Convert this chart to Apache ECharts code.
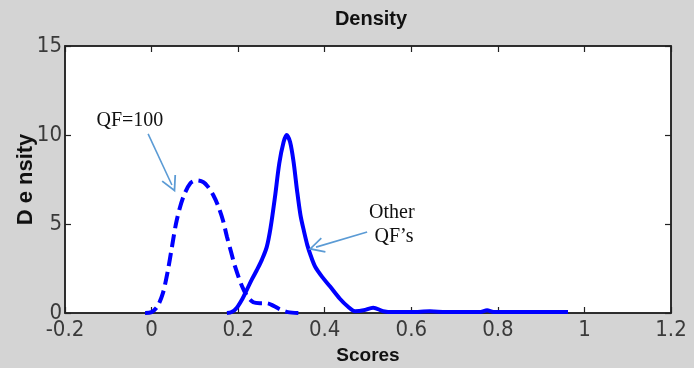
<!DOCTYPE html>
<html>
<head>
<meta charset="utf-8">
<script src="https://cdn.jsdelivr.net/npm/echarts@6/dist/echarts.min.js"></script>
<style>
html,body{margin:0;padding:0;background:#d4d4d4;}
#chart{width:694px;height:368px;}
</style>
</head>
<body>
<div id="chart"></div>
<script>
// ---- data ----
const xTicks = { min: -0.2, max: 1.2, interval: 0.2 };
const yTicks = { min: 0, max: 15, interval: 5 };

const qf100X = [-0.015, 0.0, 0.013, 0.026, 0.037, 0.047, 0.058, 0.073, 0.09, 0.105, 0.12, 0.13, 0.143, 0.154, 0.165, 0.174, 0.184, 0.193, 0.209, 0.222, 0.235, 0.25, 0.266, 0.282, 0.297, 0.315, 0.34];
const qf100Y = [0, 0.05, 0.35, 1.1, 2.3, 3.7, 5.2, 6.5, 7.3, 7.45, 7.35, 7.1, 6.6, 6.0, 5.2, 4.3, 3.4, 2.6, 1.5, 0.9, 0.6, 0.55, 0.55, 0.4, 0.2, 0.05, 0];

const otherX = [0.174, 0.185, 0.197, 0.21, 0.22, 0.232, 0.243, 0.255, 0.266, 0.275, 0.285, 0.295, 0.305, 0.312, 0.32, 0.328, 0.336, 0.344, 0.352, 0.36, 0.368, 0.378, 0.395, 0.412, 0.435, 0.454, 0.47, 0.49, 0.512, 0.535, 0.56, 0.6, 0.643, 0.68, 0.72, 0.76, 0.775, 0.79, 0.85, 0.9, 0.962];
const otherY = [0, 0.05, 0.3, 0.8, 1.3, 1.9, 2.4, 3.0, 3.7, 4.8, 6.5, 8.4, 9.6, 10.0, 9.6, 8.5, 6.9, 5.5, 4.6, 3.8, 3.2, 2.6, 2.0, 1.5, 0.8, 0.35, 0.1, 0.15, 0.3, 0.1, 0.05, 0.05, 0.1, 0.05, 0.05, 0.05, 0.15, 0.05, 0.05, 0.05, 0.05];

// annotation texts and arrows (data coordinates)
const annotationTexts = ['QF=100', 'Other', 'QF\u2019s'];
const annotationAt = [[-0.05, 10.8], [0.555, 5.65], [0.56, 4.27]];
const arrowFrom = [[-0.008, 10.06], [0.498, 4.55]];
const arrowTo = [[0.047, 7.19], [0.38, 3.7]];

// ---- chart ----
const zip = (xs, ys) => xs.map((x, i) => [x, ys[i]]);
const chart = echarts.init(document.getElementById('chart'), null, { renderer: 'canvas' });
const tickFont = { fontFamily: 'Liberation Sans Narrow, DejaVu Sans Condensed, Liberation Sans, sans-serif', fontSize: 22, color: '#3a3a3a' };
const axisBase = (pos, showLabel, extra) => Object.assign({
  type: 'value', position: pos,
  axisLine: { show: true, onZero: false, lineStyle: { color: '#222', width: 1.5 } },
  axisTick: { show: true, inside: true, length: 6, lineStyle: { color: '#222', width: 1.2 } },
  splitLine: { show: false },
  axisLabel: Object.assign({ show: showLabel }, tickFont)
}, extra);

const vArrow = 'path://M0,0 L6,12 L4.8,12.6 L0,3 L-4.8,12.6 L-6,12 Z';

chart.setOption({
  backgroundColor: '#d4d4d4',
  animation: false,
  title: {
    text: 'Density', left: 366, top: 4, textAlign: 'center',
    textStyle: { fontFamily: 'Liberation Sans, Arial, sans-serif', fontWeight: 'bold', fontSize: 20, color: '#111' }
  },
  grid: { left: 65, right: 23, top: 46, bottom: 55, outerBoundsMode: 'none', show: true, backgroundColor: '#ffffff', borderColor: '#222', borderWidth: 1.5 },
  xAxis: [
    axisBase('bottom', true, Object.assign({}, xTicks, {
      name: 'Scores', nameLocation: 'middle', nameGap: 33, nameMoveOverlap: false,
      nameTextStyle: { fontFamily: 'Liberation Sans, Arial, sans-serif', fontWeight: 'bold', fontSize: 19, color: '#111' },
      axisLabel: Object.assign({ show: true, margin: 6 }, tickFont)
    })),
    axisBase('top', false, Object.assign({}, xTicks))
  ],
  yAxis: [
    axisBase('left', true, Object.assign({}, yTicks, {
      name: 'D e nsity', nameLocation: 'middle', nameGap: 28, nameMoveOverlap: false,
      nameTextStyle: { fontFamily: 'Liberation Sans, Arial, sans-serif', fontWeight: 'bold', fontSize: 22, color: '#111' },
      axisLabel: Object.assign({ show: true, margin: 3 }, tickFont)
    })),
    axisBase('right', false, Object.assign({}, yTicks))
  ],
  series: [
    {
      name: 'QF=100', type: 'line', data: zip(qf100X, qf100Y), smooth: 0.3, showSymbol: false,
      lineStyle: { color: '#0000ff', width: 4, type: [13, 6] }
    },
    {
      name: "Other QF's", type: 'line', data: zip(otherX, otherY), smooth: 0.3, showSymbol: false,
      lineStyle: { color: '#0000ff', width: 4 }
    },
    {
      name: 'annotations', type: 'line', data: [], silent: true,
      markLine: {
        silent: true, animation: false,
        symbol: ['none', vArrow], symbolSize: [16, 16],
        label: { show: false },
        lineStyle: { color: '#5b9bd5', width: 1.6, type: 'solid' },
        data: arrowFrom.map((f, i) => [{ coord: f }, { coord: arrowTo[i] }])
      },
      markPoint: {
        silent: true, animation: false,
        symbol: 'circle', symbolSize: 1,
        itemStyle: { color: 'rgba(0,0,0,0)' },
        label: { show: true, position: 'inside', formatter: p => p.name, fontFamily: 'Liberation Serif, Times New Roman, serif', fontSize: 20, color: '#111' },
        data: annotationTexts.map((t, i) => ({ name: t, coord: annotationAt[i] }))
      }
    }
  ]
});
</script>
</body>
</html>
